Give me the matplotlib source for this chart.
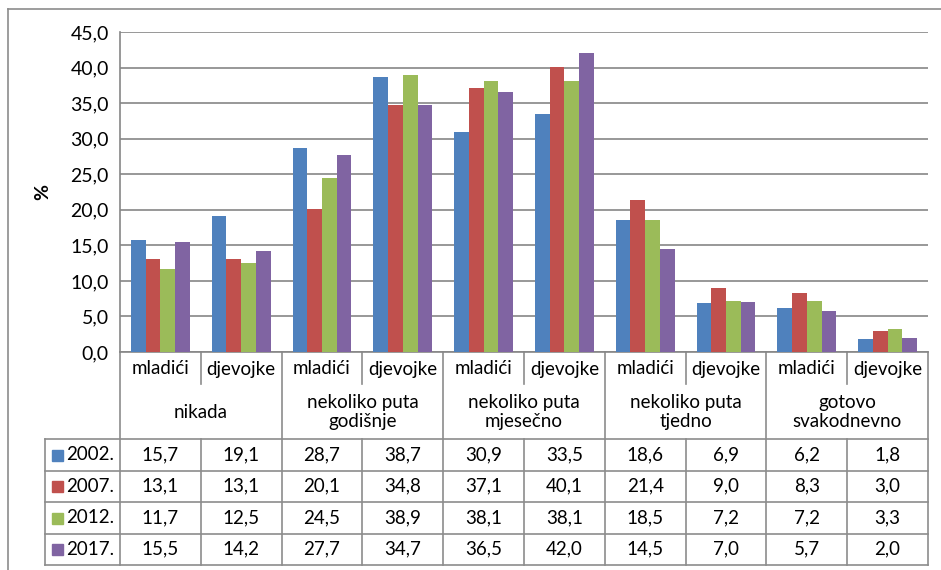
import matplotlib.pyplot as plt
from matplotlib.lines import Line2D

plt.rcParams['font.family'] = ['Lato', 'DejaVu Sans']

years = ["2002.", "2007.", "2012.", "2017."]
groups = ["nikada", "nekoliko puta\ngodišnje", "nekoliko puta\nmjesečno",
          "nekoliko puta\ntjedno", "gotovo\nsvakodnevno"]
subgroups = ["mladići", "djevojke"]

v2002 = [15.7, 19.1, 28.7, 38.7, 30.9, 33.5, 18.6, 6.9, 6.2, 1.8]
v2007 = [13.1, 13.1, 20.1, 34.8, 37.1, 40.1, 21.4, 9.0, 8.3, 3.0]
v2012 = [11.7, 12.5, 24.5, 38.9, 38.1, 38.1, 18.5, 7.2, 7.2, 3.3]
v2017 = [15.5, 14.2, 27.7, 34.7, 36.5, 42.0, 14.5, 7.0, 5.7, 2.0]
series = [v2002, v2007, v2012, v2017]
colors = ["#4F81BD", "#C0504D", "#9BBB59", "#8064A2"]

W, H = 941, 570
fig = plt.figure(figsize=(W / 100, H / 100), dpi=100)

# pixel geometry of the plot area
px_left, px_right, px_top, px_bottom = 120, 928, 32, 352
fs = 13.5

# overlay in pixel coordinates for border and data table
ov = fig.add_axes([0, 0, 1, 1])
ov.set_xlim(0, W)
ov.set_ylim(H, 0)
ov.axis("off")

ax = fig.add_axes([px_left / W, (H - px_bottom) / H,
                   (px_right - px_left) / W, (px_bottom - px_top) / H])
ax.set_facecolor("none")

n = len(v2002)
bw = 0.182
for k, (vals, c) in enumerate(zip(series, colors)):
    xs = [i + 0.5 + (k - 1.5) * bw for i in range(n)]
    ax.bar(xs, vals, width=bw, color=c, zorder=3)

ax.set_xlim(0, n)
ax.set_ylim(0, 45)
ax.set_yticks([i * 5 for i in range(10)])
ax.set_yticklabels([f"{i * 5:.1f}".replace(".", ",") for i in range(10)], fontsize=14)
ax.set_xticks([])
ax.tick_params(axis="y", length=0, pad=8)
ax.grid(axis="y", color="#868686", linewidth=1.2, zorder=0)
for s in ["top", "right"]:
    ax.spines[s].set_visible(False)
for s in ["left", "bottom"]:
    ax.spines[s].set_color("#868686")
    ax.spines[s].set_linewidth(1.2)
ax.set_ylabel("%", fontsize=14, fontweight="bold", labelpad=14)

lc = "#8c8c8c"
lw = 1.2


def hline(y, x0, x1):
    ov.add_line(Line2D([x0, x1], [y, y], color=lc, lw=lw))


def vline(x, y0, y1):
    ov.add_line(Line2D([x, x], [y0, y1], color=lc, lw=lw))


# outer chart border
hline(9, 8, W)
vline(8, 9, H)

col_w = (px_right - px_left) / n
row_tops = [439, 470.5, 502, 533.5, 565]

# group boundaries
for g in range(6):
    vline(px_left + g * 2 * col_w, px_bottom, row_tops[-1])
# subgroup dividers (partial in header, full in data rows)
for g in range(5):
    x = px_left + (2 * g + 1) * col_w
    vline(x, px_bottom, 384)
    vline(x, row_tops[0], row_tops[-1])
for y in row_tops:
    hline(y, 45, px_right)
vline(45, row_tops[0], row_tops[-1])

for i in range(n):
    ov.text(px_left + (i + 0.5) * col_w, 369, subgroups[i % 2],
            ha="center", va="center", fontsize=fs)
for g, name in enumerate(groups):
    ov.text(px_left + (2 * g + 1) * col_w, 412, name, ha="center", va="center",
            fontsize=fs, linespacing=1.2)

for r, (yr, vals, c) in enumerate(zip(years, series, colors)):
    yc = (row_tops[r] + row_tops[r + 1]) / 2
    ov.add_patch(plt.Rectangle((52, yc - 5), 11, 11, color=c))
    ov.text(66, yc, yr, ha="left", va="center", fontsize=fs)
    for i, v in enumerate(vals):
        ov.text(px_left + (i + 0.5) * col_w, yc, f"{v:.1f}".replace(".", ","),
                ha="center", va="center", fontsize=fs)

fig.savefig("out.png", dpi=100, facecolor="white")
